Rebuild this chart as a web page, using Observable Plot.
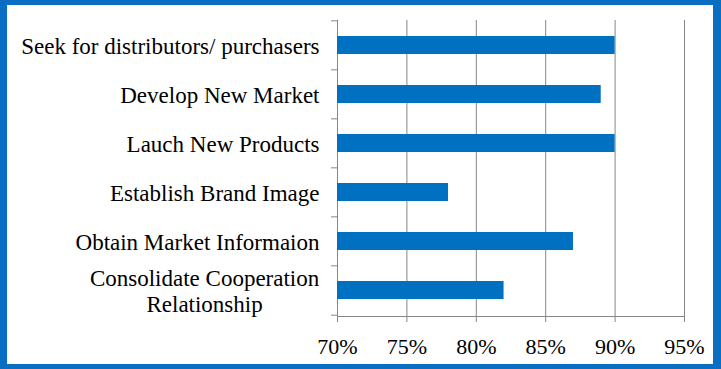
<!DOCTYPE html>
<html>
<head>
<meta charset="utf-8">
<script src="https://cdn.jsdelivr.net/npm/d3@7"></script>
<script src="https://cdn.jsdelivr.net/npm/@observablehq/plot@0.6"></script>
<style>
  html, body { margin: 0; padding: 0; background: #fff; }
  #frame {
    position: relative; width: 721px; height: 369px; box-sizing: border-box;
    border-style: solid; border-color: #0A6FC2;
    border-width: 5px 8px 5px 7px; background: #fff; overflow: hidden;
  }
</style>
</head>
<body>
<div id="frame"></div>
<script>
const categories = [
  "Seek for distributors/ purchasers",
  "Develop New Market",
  "Lauch New Products",
  "Establish Brand Image",
  "Obtain Market Informaion",
  "Consolidate Cooperation\nRelationship"
];
const values = [90, 89, 90, 78, 87, 82];
const xTicks = [70, 75, 80, 85, 90, 95];

const data = categories.map((c, i) => ({cat: c, value: values[i]}));

const W = 706, H = 359;
const mt = 15, mb = 48, ml = 330, mr = 29;
const step = (H - mt - mb) / categories.length;
const gray = "#868686";

const chart = Plot.plot({
  width: W,
  height: H,
  marginTop: mt,
  marginBottom: mb,
  marginLeft: ml,
  marginRight: mr,
  style: {fontFamily: "'Liberation Serif', serif", fontSize: "22px", color: "#000", background: "#fff"},
  x: {domain: [xTicks[0], xTicks[xTicks.length - 1]]},
  y: {domain: categories, paddingInner: 0.625, paddingOuter: 0.3125},
  marks: [
    Plot.gridX(xTicks, {stroke: gray, strokeOpacity: 1}),
    Plot.barX(data, {y: "cat", x1: () => xTicks[0], x2: "value", fill: "#0070C0"}),
    Plot.frame({anchor: "bottom", stroke: gray}),
    Plot.axisY({tickSize: 0, tickPadding: 18, lineHeight: 1.12, fontSize: 23, fill: "#000", label: null}),
    Plot.axisY({tickSize: 6, text: null, dy: -step / 2, stroke: gray, label: null}),
    Plot.axisY({ticks: [categories[categories.length - 1]], tickSize: 6, text: null, dy: step / 2, stroke: gray, label: null}),
    Plot.axisX({ticks: xTicks, tickFormat: d => d + "%", tickSize: 6, tickPadding: 16, stroke: gray, fill: "#000", label: null})
  ]
});
document.getElementById("frame").appendChild(chart);

// center-align the lines of multi-line category labels (as in the original)
chart.querySelectorAll("text").forEach(t => {
  const spans = t.querySelectorAll("tspan");
  if (spans.length > 1) {
    const w = t.getBBox().width;
    t.setAttribute("text-anchor", "middle");
    spans.forEach(s => s.setAttribute("text-anchor", "middle"));
    const prev = t.getAttribute("transform") || "";
    t.setAttribute("transform", prev + ` translate(${-w / 2},0)`);
  }
});
</script>
</body>
</html>
